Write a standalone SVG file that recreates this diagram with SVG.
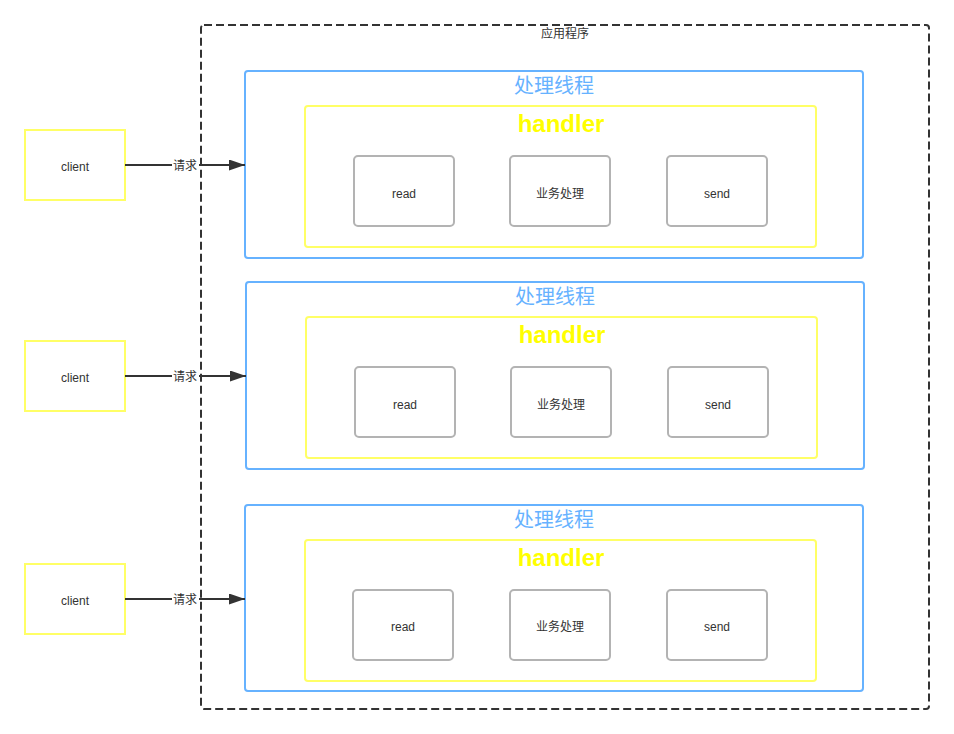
<svg xmlns="http://www.w3.org/2000/svg" width="954" height="734" viewBox="0 0 954 734">
  <defs>
    <marker id="arrow" viewBox="0 0 16 11" refX="16" refY="5.5" markerWidth="16" markerHeight="11" markerUnits="userSpaceOnUse" orient="auto" preserveAspectRatio="none">
      <path d="M0,0 L16,5.5 L0,11 z" fill="#333333"/>
    </marker>
    <style>
      .app { fill: none; stroke: #333333; stroke-width: 2; stroke-dasharray: 8 4; }
      .thread { fill: #ffffff; stroke: #66b2ff; stroke-width: 2; }
      .handler { fill: #ffffff; stroke: #ffff66; stroke-width: 2; }
      .step { fill: #ffffff; stroke: #b3b3b3; stroke-width: 2; }
      .client { fill: #ffffff; stroke: #ffff66; stroke-width: 2; }
      .edge { fill: none; stroke: #333333; stroke-width: 2; marker-end: url(#arrow); }
      .t { font-family: "Liberation Sans", "Noto Sans CJK SC", sans-serif; text-anchor: middle; dominant-baseline: central; }
      .small { font-size: 12px; fill: #333333; }
      .ttl { font-size: 20px; fill: #66b2ff; }
      .hdl { font-size: 24px; font-weight: bold; fill: #ffff00; }
      .lbl { font-size: 12px; fill: #333333; }
    </style>
  </defs>
  <rect width="954" height="734" fill="#ffffff"/>

  <!-- application boundary -->
  <g id="app">
    <rect class="app" x="201" y="25" width="728" height="684" rx="3"/>
    <text class="t small" x="565" y="34">应用程序</text>
  </g>

  <!-- worker threads -->
  <g id="thread1">
    <rect class="thread" x="245" y="71" width="618" height="187" rx="3"/>
    <text class="t ttl" x="554" y="86">处理线程</text>
    <rect class="handler" x="305" y="106" width="511" height="141" rx="3"/>
    <text class="t hdl" x="561" y="123">handler</text>
    <rect class="step" x="354" y="156" width="100" height="70" rx="4"/>
    <text class="t small" x="404" y="194">read</text>
    <rect class="step" x="510" y="156" width="100" height="70" rx="4"/>
    <text class="t small" x="560" y="194">业务处理</text>
    <rect class="step" x="667" y="156" width="100" height="70" rx="4"/>
    <text class="t small" x="717" y="194">send</text>
  </g>

  <g id="thread2">
    <rect class="thread" x="246" y="282" width="618" height="187" rx="3"/>
    <text class="t ttl" x="555" y="297">处理线程</text>
    <rect class="handler" x="306" y="317" width="511" height="141" rx="3"/>
    <text class="t hdl" x="562" y="334">handler</text>
    <rect class="step" x="355" y="367" width="100" height="70" rx="4"/>
    <text class="t small" x="405" y="405">read</text>
    <rect class="step" x="511" y="367" width="100" height="70" rx="4"/>
    <text class="t small" x="561" y="405">业务处理</text>
    <rect class="step" x="668" y="367" width="100" height="70" rx="4"/>
    <text class="t small" x="718" y="405">send</text>
  </g>

  <g id="thread3">
    <rect class="thread" x="245" y="505" width="618" height="186" rx="3"/>
    <text class="t ttl" x="554" y="520">处理线程</text>
    <rect class="handler" x="305" y="540" width="511" height="141" rx="3"/>
    <text class="t hdl" x="561" y="557">handler</text>
    <rect class="step" x="353" y="590" width="100" height="70" rx="4"/>
    <text class="t small" x="403" y="627">read</text>
    <rect class="step" x="510" y="590" width="100" height="70" rx="4"/>
    <text class="t small" x="560" y="627">业务处理</text>
    <rect class="step" x="667" y="590" width="100" height="70" rx="4"/>
    <text class="t small" x="717" y="627">send</text>
  </g>

  <!-- clients -->
  <g id="client1">
    <rect class="client" x="25" y="130" width="100" height="70"/>
    <text class="t small" x="75" y="167">client</text>
  </g>
  <g id="client2">
    <rect class="client" x="25" y="341" width="100" height="70"/>
    <text class="t small" x="75" y="378">client</text>
  </g>
  <g id="client3">
    <rect class="client" x="25" y="564" width="100" height="70"/>
    <text class="t small" x="75" y="601">client</text>
  </g>

  <!-- requests -->
  <g id="connectors">
    <path class="edge" d="M125,165 L245,165"/>
    <rect x="172" y="158" width="27" height="15" fill="#ffffff"/>
    <text class="t lbl" x="185" y="166">请求</text>
    <path class="edge" d="M125,376 L246,376"/>
    <rect x="172" y="369" width="27" height="15" fill="#ffffff"/>
    <text class="t lbl" x="185" y="377">请求</text>
    <path class="edge" d="M125,599 L245,599"/>
    <rect x="172" y="592" width="27" height="15" fill="#ffffff"/>
    <text class="t lbl" x="185" y="600">请求</text>
  </g>
</svg>
